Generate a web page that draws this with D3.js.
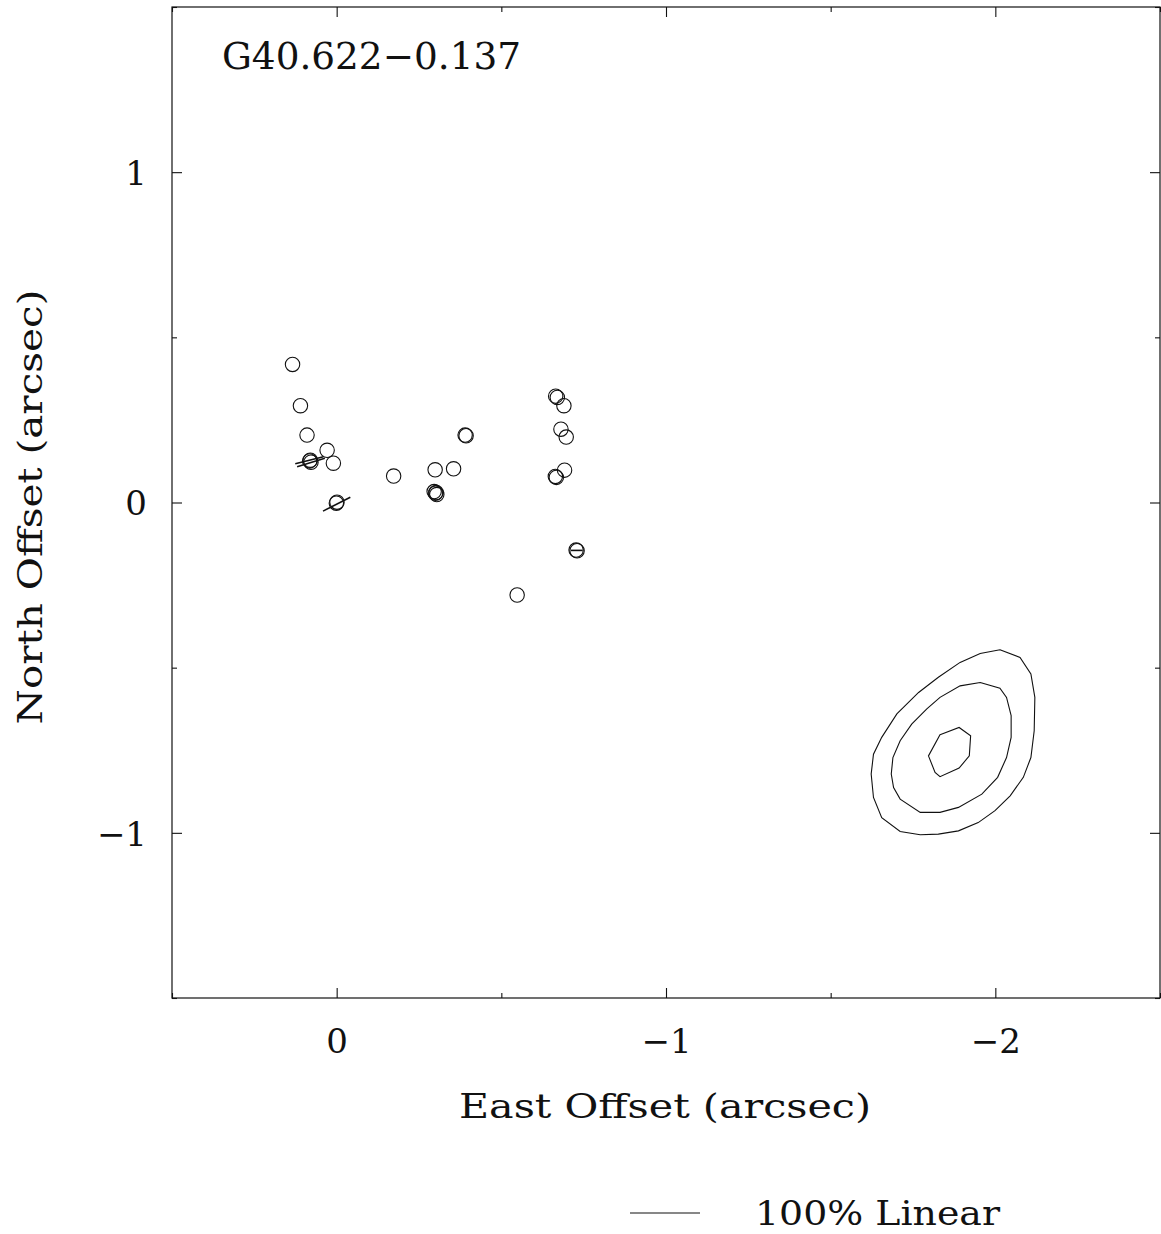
<!DOCTYPE html>
<html>
<head>
<meta charset="utf-8">
<script src="https://cdn.jsdelivr.net/npm/d3@7"></script>
<style>
  html, body { margin: 0; padding: 0; background: #fff; }
  svg { display: block; }
  text { font-family: "DejaVu Serif", "Liberation Serif", serif; fill: #111; }
</style>
</head>
<body>
<svg id="chart" width="1161" height="1234"></svg>
<script>
// ---------------- data ----------------
const sourceName = "G40.622\u22120.137";
const xLabel = "East Offset (arcsec)";
const yLabel = "North Offset (arcsec)";
const legendLabel = "100% Linear";

const xMajorTicks = [0, -1, -2];
const xMinorTicks = [0.5, -0.5, -1.5, -2.5];
const yMajorTicks = [-1, 0, 1];
const yMinorTicks = [-1.5, -0.5, 0.5, 1.5];

// maser spots (east offset, north offset), arcsec
const spotEast  = [0.134, 0.110, 0.090, 0.029, 0.010,
                   0.082, 0.078, 0.080,
                   0.001, -0.001,
                   -0.173, -0.299, -0.355,
                   -0.296, -0.300, -0.304, -0.302,
                   -0.390, -0.393,
                   -0.665, -0.670,
                   -0.690, -0.681, -0.697, -0.692,
                   -0.664, -0.667,
                   -0.727, -0.730,
                   -0.548];
const spotNorth = [0.418, 0.293, 0.204, 0.158, 0.119,
                   0.126, 0.122, 0.128,
                   -0.002, 0.001,
                   0.080, 0.099, 0.102,
                   0.033, 0.028, 0.024, 0.030,
                   0.204, 0.202,
                   0.322, 0.318,
                   0.293, 0.222, 0.198, 0.098,
                   0.079, 0.076,
                   -0.144, -0.146,
                   -0.280];

// polarization vectors: centre (east, north), length (arcsec), position angle (deg E of N)
const vecEast   = [0.083, 0.078, 0.000, -0.729];
const vecNorth  = [0.128, 0.121, -0.005, -0.145];
const vecLength = [0.088, 0.088, 0.093, 0.036];
const vecPA     = [104, 107, 117, 90];

// beam contours (east, north)
const contourOuter = [[-2.014,-0.446],[-2.075,-0.469],[-2.108,-0.519],[-2.120,-0.590],[-2.118,-0.691],
  [-2.108,-0.772],[-2.085,-0.832],[-2.045,-0.888],[-1.999,-0.933],[-1.948,-0.969],[-1.888,-0.994],
  [-1.827,-1.004],[-1.772,-1.006],[-1.711,-0.996],[-1.655,-0.954],[-1.630,-0.893],[-1.623,-0.822],
  [-1.630,-0.762],[-1.655,-0.711],[-1.701,-0.640],[-1.767,-0.575],[-1.827,-0.529],[-1.893,-0.484],
  [-1.954,-0.457]];
const contourMiddle = [[-1.954,-0.545],[-2.014,-0.562],[-2.034,-0.590],[-2.048,-0.645],[-2.048,-0.711],
  [-2.034,-0.772],[-2.007,-0.832],[-1.959,-0.883],[-1.888,-0.923],[-1.832,-0.938],[-1.772,-0.938],
  [-1.711,-0.898],[-1.691,-0.863],[-1.684,-0.822],[-1.689,-0.772],[-1.711,-0.721],[-1.746,-0.671],
  [-1.792,-0.625],[-1.832,-0.590],[-1.893,-0.555]];
const contourInner = [[-1.832,-0.703],[-1.890,-0.681],[-1.925,-0.706],[-1.921,-0.767],[-1.890,-0.804],
  [-1.832,-0.830],[-1.817,-0.817],[-1.797,-0.767]];
const contours = [contourOuter, contourMiddle, contourInner];

// ---------------- layout ----------------
const svg = d3.select("#chart");
const L = 172, R = 1160, T = 7, B = 998;
const x = d3.scaleLinear().domain([0.5, -2.5]).range([L, R]);
const y = d3.scaleLinear().domain([-1.5, 1.5]).range([B, T]);
const fmt = d3.format("d");

// frame
svg.append("rect").attr("x", L).attr("y", T).attr("width", R - L).attr("height", B - T)
  .attr("fill", "none").attr("stroke", "#111").attr("stroke-width", 1.2);

function styleAxis(g, fontSize) {
  g.select(".domain").remove();
  g.selectAll(".tick line").attr("stroke", "#111").attr("stroke-width", 1.1);
  g.selectAll(".tick text").attr("font-size", fontSize).attr("fill", "#111")
    .style("font-family", '"DejaVu Serif", "Liberation Serif", serif');
}

// bottom
svg.append("g").attr("transform", `translate(0,${B})`)
  .call(d3.axisBottom(x).tickValues(xMajorTicks).tickSize(-10).tickPadding(31).tickFormat(fmt))
  .call(g => styleAxis(g, 34));
svg.append("g").attr("transform", `translate(0,${B})`)
  .call(d3.axisBottom(x).tickValues(xMinorTicks).tickSize(-5).tickFormat(""))
  .call(g => styleAxis(g, 34));
// top
svg.append("g").attr("transform", `translate(0,${T})`)
  .call(d3.axisTop(x).tickValues(xMajorTicks).tickSize(-10).tickFormat(""))
  .call(g => styleAxis(g, 34));
svg.append("g").attr("transform", `translate(0,${T})`)
  .call(d3.axisTop(x).tickValues(xMinorTicks).tickSize(-5).tickFormat(""))
  .call(g => styleAxis(g, 34));
// left
svg.append("g").attr("transform", `translate(${L},0)`)
  .call(d3.axisLeft(y).tickValues(yMajorTicks).tickSize(-10).tickPadding(25).tickFormat(fmt))
  .call(g => styleAxis(g, 34))
  .call(g => g.selectAll(".tick text").attr("dy", "0.36em"));
svg.append("g").attr("transform", `translate(${L},0)`)
  .call(d3.axisLeft(y).tickValues(yMinorTicks).tickSize(-5).tickFormat(""))
  .call(g => styleAxis(g, 34));
// right
svg.append("g").attr("transform", `translate(${R},0)`)
  .call(d3.axisRight(y).tickValues(yMajorTicks).tickSize(-10).tickFormat(""))
  .call(g => styleAxis(g, 34));
svg.append("g").attr("transform", `translate(${R},0)`)
  .call(d3.axisRight(y).tickValues(yMinorTicks).tickSize(-5).tickFormat(""))
  .call(g => styleAxis(g, 34));

// axis labels
svg.append("text").attr("x", 665).attr("y", 1118).attr("text-anchor", "middle")
  .attr("font-size", 34).attr("textLength", 412).attr("lengthAdjust", "spacingAndGlyphs").text(xLabel);
svg.append("text").attr("transform", "translate(42,507) rotate(-90)").attr("text-anchor", "middle")
  .attr("font-size", 34).attr("textLength", 435).attr("lengthAdjust", "spacingAndGlyphs").text(yLabel);

// title
svg.append("text").attr("x", 222).attr("y", 69).attr("font-size", 37)
  .attr("textLength", 299).attr("lengthAdjust", "spacingAndGlyphs").text(sourceName);

// contours
const line = d3.line().x(d => x(d[0])).y(d => y(d[1])).curve(d3.curveLinearClosed);
svg.append("g").selectAll("path").data(contours).join("path")
  .attr("d", line).attr("fill", "none").attr("stroke", "#111").attr("stroke-width", 1.1);

// spots
const spots = spotEast.map((e, i) => ({ e, n: spotNorth[i] }));
svg.append("g").selectAll("circle").data(spots).join("circle")
  .attr("cx", d => x(d.e)).attr("cy", d => y(d.n)).attr("r", 7.2)
  .attr("fill", "none").attr("stroke", "#111").attr("stroke-width", 1.1);

// polarization vectors
const vecs = vecEast.map((e, i) => ({ e, n: vecNorth[i], len: vecLength[i], pa: vecPA[i] }));
svg.append("g").selectAll("line").data(vecs).join("line")
  .attr("x1", d => x(d.e + d.len / 2 * Math.sin(d.pa * Math.PI / 180)))
  .attr("y1", d => y(d.n + d.len / 2 * Math.cos(d.pa * Math.PI / 180)))
  .attr("x2", d => x(d.e - d.len / 2 * Math.sin(d.pa * Math.PI / 180)))
  .attr("y2", d => y(d.n - d.len / 2 * Math.cos(d.pa * Math.PI / 180)))
  .attr("stroke", "#111").attr("stroke-width", 1.6);

// legend
svg.append("line").attr("x1", 630).attr("x2", 700).attr("y1", 1213).attr("y2", 1213)
  .attr("stroke", "#111").attr("stroke-width", 1.1);
svg.append("text").attr("x", 755).attr("y", 1225).attr("font-size", 34)
  .attr("textLength", 245).attr("lengthAdjust", "spacingAndGlyphs").text(legendLabel);
</script>
</body>
</html>
